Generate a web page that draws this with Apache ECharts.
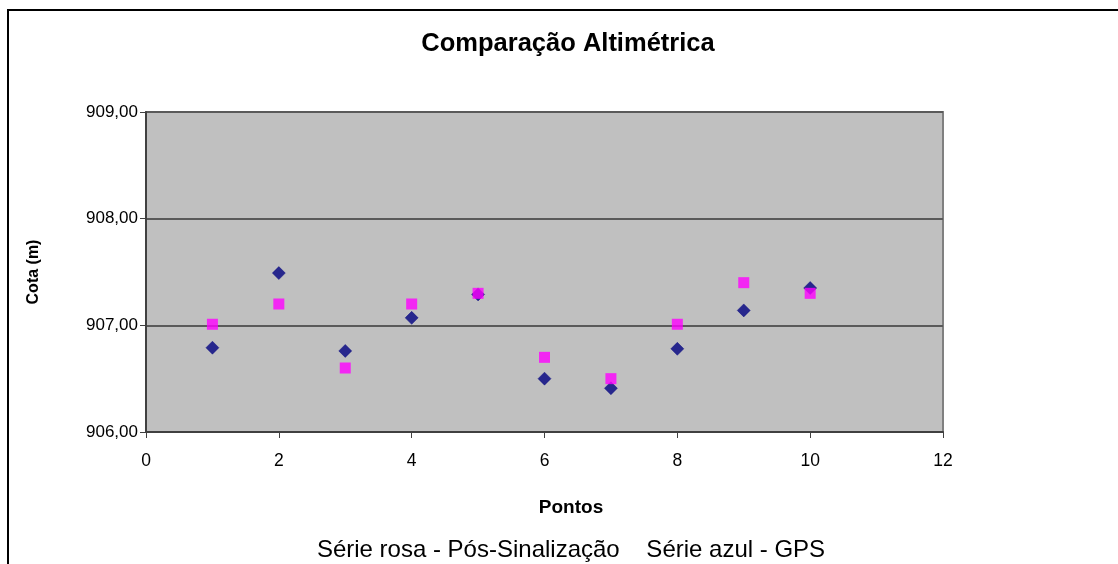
<!DOCTYPE html>
<html>
<head>
<meta charset="utf-8">
<script src="https://cdn.jsdelivr.net/npm/echarts@6/dist/echarts.min.js"></script>
<style>
  html, body { margin: 0; padding: 0; background: #ffffff; }
  #chart { width: 1118px; height: 564px; }
</style>
</head>
<body>
<div id="chart"></div>
<script>
// Point numbers along the survey
const pontos = [1, 2, 3, 4, 5, 6, 7, 8, 9, 10];
// Heights (m) measured by GPS
const cotaGPS = [906.79, 907.49, 906.76, 907.07, 907.29, 906.50, 906.41, 906.78, 907.14, 907.35];
// Heights (m) after signalling
const cotaPosSinalizacao = [907.01, 907.20, 906.60, 907.20, 907.30, 906.70, 906.50, 907.01, 907.40, 907.30];

const FONT = '"Liberation Sans", Arial, sans-serif';

const chart = echarts.init(document.getElementById('chart'), null, { renderer: 'canvas' });

chart.setOption({
  animation: false,
  backgroundColor: '#ffffff',
  grid: {
    left: 146, top: 112, width: 797, height: 320,
    show: true, backgroundColor: '#c0c0c0',
    borderColor: '#808080', borderWidth: 2
  },
  xAxis: {
    type: 'value', min: 0, max: 12, interval: 2,
    axisLine: { show: true, onZero: false, lineStyle: { color: '#404040', width: 2 } },
    axisTick: { show: true, inside: false, length: 6, lineStyle: { color: '#404040', width: 1 } },
    axisLabel: { fontFamily: FONT, fontSize: 17.5, color: '#000', margin: 20 },
    splitLine: { show: false }
  },
  yAxis: {
    type: 'value', min: 906, max: 909, interval: 1,
    name: 'Cota (m)', nameLocation: 'middle', nameGap: 104, nameRotate: 90,
    nameTextStyle: { fontFamily: FONT, fontWeight: 'bold', fontSize: 16, color: '#000' },
    axisLine: { show: true, onZero: false, lineStyle: { color: '#404040', width: 2 } },
    axisTick: { show: true, inside: false, length: 6, lineStyle: { color: '#404040', width: 1 } },
    axisLabel: {
      fontFamily: FONT, fontSize: 17, color: '#000', margin: 8,
      formatter: v => v.toFixed(2).replace('.', ',')
    },
    splitLine: { show: true, lineStyle: { color: '#5a5a5a', width: 2 } }
  },
  series: [
    {
      name: 'GPS', type: 'scatter', symbol: 'diamond', symbolSize: 13,
      itemStyle: { color: '#000080', borderColor: '#000080', borderWidth: 0.5 },
      data: pontos.map((p, i) => [p, cotaGPS[i]])
    },
    {
      name: 'Pós-Sinalização', type: 'scatter', symbol: 'rect', symbolSize: 11,
      itemStyle: { color: '#ff00ff' },
      data: pontos.map((p, i) => [p, cotaPosSinalizacao[i]])
    }
  ],
  graphic: [
    {
      type: 'rect', z: -1, silent: true,
      shape: { x: 8, y: 10, width: 1130, height: 580 },
      style: { fill: 'none', stroke: '#000', lineWidth: 2 }
    },
    {
      type: 'text', silent: true, x: 568, y: 44,
      style: {
        text: 'Comparação Altimétrica',
        font: 'bold 25.5px "Liberation Sans", Arial, sans-serif',
        fill: '#000', align: 'center', verticalAlign: 'middle'
      }
    },
    {
      type: 'text', silent: true, x: 571, y: 508,
      style: {
        text: 'Pontos',
        font: 'bold 19px "Liberation Sans", Arial, sans-serif',
        fill: '#000', align: 'center', verticalAlign: 'middle'
      }
    },
    {
      type: 'text', silent: true, x: 571, y: 550,
      style: {
        text: 'Série rosa - Pós-Sinalização    Série azul - GPS',
        font: '24px "Liberation Sans", Arial, sans-serif',
        fill: '#000', align: 'center', verticalAlign: 'middle'
      }
    }
  ]
});
</script>
</body>
</html>
